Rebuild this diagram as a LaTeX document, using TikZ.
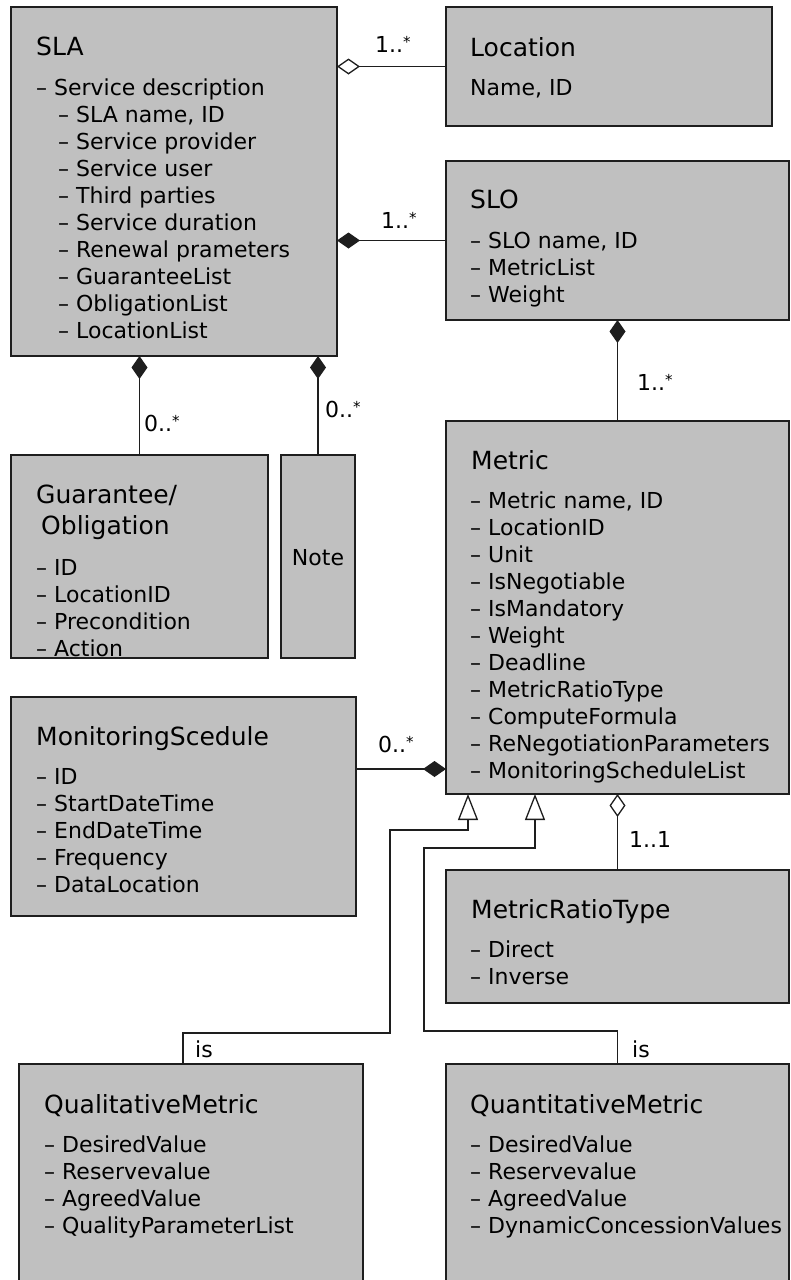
\documentclass[tikz,border=0pt]{standalone}
\usepackage{fontspec}
\setmainfont{DejaVu Sans}
\usetikzlibrary{arrows.meta}
\definecolor{boxgray}{RGB}{192,192,192}
\definecolor{linegray}{RGB}{30,30,30}
\newcommand\st{\raisebox{5pt}{\fontsize{15}{15}\selectfont *}}
\newcommand\umlitems[4]{\foreach \t [count=\i from 0] in {#4} {\node[itm] (#1-\i) at (#2,{#3+27*\i}) {\textendash\ \t};}}
\begin{document}
\begin{tikzpicture}[x=1pt,y=-1pt,
  umlbox/.style={draw=linegray, line width=1.4pt, fill=boxgray, inner sep=0pt, outer sep=0pt, anchor=north west},
  ttl/.style={font=\fontsize{25}{30}\selectfont, inner sep=0pt, anchor=base west},
  itm/.style={font=\fontsize{22}{27}\selectfont, inner sep=0pt, anchor=base west},
  lbl/.style={font=\fontsize{22}{27}\selectfont, inner sep=0pt, anchor=base west},
  conn/.style={draw=linegray, line width=1.3pt},
  comp/.style={{Diamond[length=23pt,width=16pt]}-},
  agg/.style={{Diamond[open,length=23pt,width=16pt,fill=white]}-},
  gen/.style={-{Triangle[open,length=26pt,width=20pt,fill=white]}}]
\useasboundingbox (0,0) rectangle (790,1280);

% boxes
\node[umlbox, minimum width=326pt, minimum height=349pt] (sla) at (11,7) {};
\node[umlbox, minimum width=326pt, minimum height=119pt] (loc) at (446,7) {};
\node[umlbox, minimum width=343pt, minimum height=159pt] (slo) at (446,161) {};
\node[umlbox, minimum width=343pt, minimum height=373pt] (met) at (446,421) {};
\node[umlbox, minimum width=257pt, minimum height=203pt] (gua) at (11,455) {};
\node[umlbox, minimum width=74pt, minimum height=203pt] (note) at (281,455) {};
\node[umlbox, minimum width=345pt, minimum height=219pt] (ms) at (11,697) {};
\node[umlbox, minimum width=343pt, minimum height=133pt] (mrt) at (446,870) {};
\node[umlbox, minimum width=344pt, minimum height=236pt] (ql) at (19,1064) {};
\node[umlbox, minimum width=343pt, minimum height=236pt] (qn) at (446,1064) {};

% SLA
\node[ttl] (sla-t) at (36,55) {SLA};
\node[itm] (sla-d) at (36,95) {\textendash\ Service description};
\umlitems{sla}{58}{122}{{SLA name, ID}, Service provider, Service user, Third parties, Service duration, Renewal prameters, GuaranteeList, ObligationList, LocationList}

% Location
\node[ttl] (loc-t) at (470,56) {Location};
\node[itm] (loc-0) at (470,95) {Name, ID};

% SLO
\node[ttl] (slo-t) at (470,208) {SLO};
\umlitems{slo}{470}{248}{{SLO name, ID}, MetricList, Weight}

% Metric
\node[ttl] (met-t) at (471,469) {Metric};
\umlitems{met}{470}{508}{{Metric name, ID}, LocationID, Unit, IsNegotiable, IsMandatory, Weight, Deadline, MetricRatioType, ComputeFormula, ReNegotiationParameters, MonitoringScheduleList}

% Guarantee / Obligation
\node[ttl] (gua-t) at (36,503) {Guarantee/};
\node[ttl] (gua-u) at (41,534) {Obligation};
\umlitems{gua}{36}{575}{ID, LocationID, Precondition, Action}

% Note
\node[itm, anchor=base] (note-t) at (318,565) {Note};

% MonitoringScedule
\node[ttl] (ms-t) at (36,745) {MonitoringScedule};
\umlitems{ms}{36}{784}{ID, StartDateTime, EndDateTime, Frequency, DataLocation}

% MetricRatioType
\node[ttl] (mrt-t) at (471,918) {MetricRatioType};
\umlitems{mrt}{470}{957}{Direct, Inverse}

% Qualitative / Quantitative
\node[ttl] (ql-t) at (44,1113) {QualitativeMetric};
\umlitems{ql}{44}{1152}{DesiredValue, Reservevalue, AgreedValue, QualityParameterList}
\node[ttl] (qn-t) at (470,1113) {QuantitativeMetric};
\umlitems{qn}{470}{1152}{DesiredValue, Reservevalue, AgreedValue, DynamicConcessionValues}

% connectors
\draw[conn, agg] (loc.west -| sla.east) -- (loc.west);
\draw[conn, comp] (slo.west -| sla.east) -- (slo.west);
\draw[conn, comp] (gua.north |- sla.south) -- (gua.north);
\draw[conn, comp] (note.north |- sla.south) -- (note.north);
\draw[conn, comp] (slo.south) -- (met.north);
\coordinate (msj) at (446,769);
\draw[conn, comp] (msj) -- (ms.east |- msj);
\draw[conn, agg] (met.south) -- (mrt.north);
\coordinate (qlj) at (183,1064);
\coordinate (gl) at (468,794);
\draw[conn, gen] (qlj) |- (390,1033) |- (468,830) -- (gl);
\coordinate (gr) at (535,794);
\draw[conn, gen] (qn.north) |- (424,1031) |- (535,848) -- (gr);

% labels
\node[lbl] (m1) at (375,52) {1..\st};
\node[lbl] (m2) at (381,228) {1..\st};
\node[lbl] (m3) at (144,431) {0..\st};
\node[lbl] (m4) at (325,417) {0..\st};
\node[lbl] (m5) at (637,390) {1..\st};
\node[lbl] (m6) at (378,752) {0..\st};
\node[lbl] (m7) at (629,847) {1..1};
\node[lbl] (is1) at (195,1057) {is};
\node[lbl] (is2) at (632,1057) {is};
\end{tikzpicture}
\end{document}
